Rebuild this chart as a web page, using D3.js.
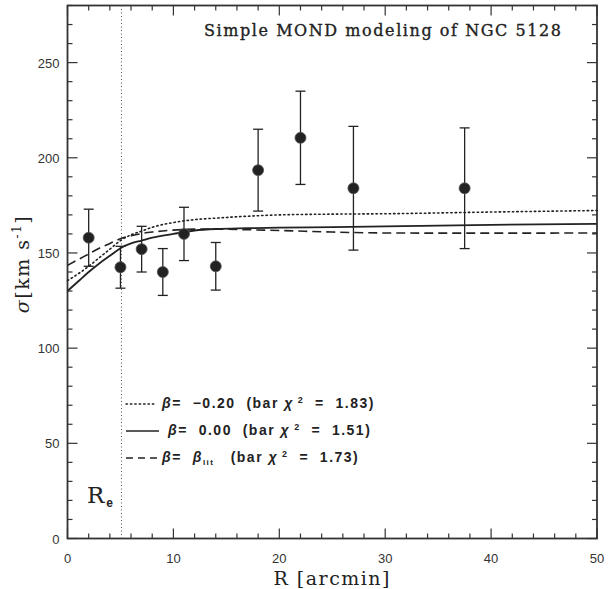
<!doctype html>
<html>
<head>
<meta charset="utf-8">
<title>Simple MOND modeling of NGC 5128</title>
<script src="https://d3js.org/d3.v7.min.js"></script>
<style>
  body {margin:0; background:#fff;}
  svg {display:block;}
  .tick-label {font-family:"Liberation Sans", Arial, sans-serif; font-size:13px; fill:#333;}
  .serif {font-family:"DejaVu Serif", "Liberation Serif", serif; fill:#222;}
  .legend {font-family:"Liberation Sans", Arial, sans-serif; font-weight:bold; font-size:14px; fill:#222; letter-spacing:1.5px;}
</style>
</head>
<body>
<script>
"use strict";
// measured points
var rData = [2, 5, 7, 9, 11, 14, 18, 22, 27, 37.5];
var sigData = [158, 142.5, 152, 140, 160, 143, 193.5, 210.5, 184, 184];
var sigErr = [15, 11, 12, 12.3, 14, 12.5, 21.5, 24.5, 32.5, 31.7];

// model curves
var curveR = [0, 1, 2, 3, 4, 5, 6, 7, 8, 10, 12, 14, 17, 20, 25, 30, 40, 50];
var sigDotted = [135.5, 139, 143, 147.5, 152, 156.5, 159.5, 161.5, 163.5, 166, 167.5, 168.3, 169.3, 170, 170.4, 170.6, 171.5, 172.3];
var sigSolid = [130, 135, 140, 144.5, 148.5, 152.5, 155, 156.5, 158, 160, 161.8, 162.6, 163, 163.3, 163.6, 164, 164.8, 165.3];
var sigDashed = [143.5, 146.5, 149.5, 152.5, 155, 157.5, 159, 160.2, 161, 162, 162.5, 162.5, 162.2, 161.8, 161, 160.5, 160.4, 160.5];

var rEff = 5.1;
var xTicks = [0, 10, 20, 30, 40, 50];
var yTicks = [0, 50, 100, 150, 200, 250];

var W = 608, H = 589;
var m = {left: 67.5, right: 11, top: 5.5, bottom: 50.5};

var svg = d3.select("body").append("svg").attr("width", W).attr("height", H);

var x = d3.scaleLinear().domain([0, 50]).range([m.left, W - m.right]);
var y = d3.scaleLinear().domain([0, 280]).range([H - m.bottom, m.top]);

var ink = "#222";

// ticks on all four sides
var xMinor = d3.range(0, 50.01, 2);
var yMinor = d3.range(0, 280.01, 10);
var tk = svg.append("g").attr("stroke", "#333").attr("stroke-width", 1.2);
xMinor.forEach(function(v) {
    var len = (v % 10 === 0) ? 10 : 5;
    tk.append("line").attr("x1", x(v)).attr("x2", x(v)).attr("y1", y(0)).attr("y2", y(0) - len);
    tk.append("line").attr("x1", x(v)).attr("x2", x(v)).attr("y1", y(280)).attr("y2", y(280) + len);
});
yMinor.forEach(function(v) {
    var len = (v % 50 === 0) ? 10 : 5;
    tk.append("line").attr("y1", y(v)).attr("y2", y(v)).attr("x1", x(0)).attr("x2", x(0) + len);
    tk.append("line").attr("y1", y(v)).attr("y2", y(v)).attr("x1", x(50)).attr("x2", x(50) - len);
});

// frame
svg.append("rect")
    .attr("x", x(0)).attr("y", y(280))
    .attr("width", x(50) - x(0)).attr("height", y(0) - y(280))
    .attr("fill", "none").attr("stroke", "#333").attr("stroke-width", 1.8);

// tick labels
svg.selectAll(".xl").data(xTicks).enter().append("text")
    .attr("class", "tick-label")
    .attr("x", function(d) { return x(d); })
    .attr("y", y(0) + 24)
    .attr("text-anchor", "middle")
    .text(function(d) { return d; });

svg.selectAll(".yl").data(yTicks).enter().append("text")
    .attr("class", "tick-label")
    .attr("x", x(0) - 8)
    .attr("y", function(d) { return y(d) + 5; })
    .attr("text-anchor", "end")
    .text(function(d) { return d; });

// axis titles
svg.append("text").attr("class", "serif")
    .attr("x", (x(0) + x(50)) / 2).attr("y", 585)
    .attr("text-anchor", "middle")
    .attr("font-size", 19).attr("letter-spacing", 1.5)
    .text("R [arcmin]");

var yt = svg.append("text").attr("class", "serif")
    .attr("transform", "translate(29," + ((y(0) + y(280)) / 2 - 8) + ") rotate(-90)")
    .attr("text-anchor", "middle")
    .attr("font-size", 19).attr("letter-spacing", 1.5);
yt.append("tspan").attr("font-style", "italic").text("σ");
yt.append("tspan").text("[km s");
yt.append("tspan").attr("font-size", 12).attr("dy", -8).text("-1");
yt.append("tspan").attr("dy", 8).text("]");

// title
svg.append("text").attr("class", "serif")
    .attr("x", 204).attr("y", 36)
    .attr("font-size", 16)
    .attr("stroke", "#222").attr("stroke-width", 0.35)
    .attr("textLength", 357).attr("lengthAdjust", "spacing")
    .text("Simple MOND modeling of NGC 5128");

// effective radius
svg.append("line")
    .attr("x1", x(rEff)).attr("x2", x(rEff)).attr("y1", y(0)).attr("y2", y(280))
    .attr("stroke", "#555").attr("stroke-width", 1).attr("stroke-dasharray", "1,2.5");

var re = svg.append("text").attr("class", "serif").attr("x", 87).attr("y", 503).attr("font-size", 23);
re.append("tspan").text("R");
re.append("tspan").attr("font-size", 12).attr("font-weight", "bold")
    .attr("font-family", "Liberation Sans, sans-serif").attr("dx", 2).attr("dy", 4).text("e");

// model curves
var line = d3.line()
    .x(function(d) { return x(d[0]); })
    .y(function(d) { return y(d[1]); })
    .curve(d3.curveMonotoneX);

var models = [
    {vals: sigDotted, dash: "1.4,3", width: 1.6, cap: "round"},
    {vals: sigSolid, dash: null, width: 1.8, cap: "butt"},
    {vals: sigDashed, dash: "9,5", width: 1.6, cap: "butt"}
];
models.forEach(function(md) {
    svg.append("path")
        .datum(d3.zip(curveR, md.vals))
        .attr("d", line)
        .attr("fill", "none")
        .attr("stroke", ink)
        .attr("stroke-width", md.width)
        .attr("stroke-linecap", md.cap)
        .attr("stroke-dasharray", md.dash);
});

// error bars and points
var pts = svg.append("g");
rData.forEach(function(r, i) {
    var cx = x(r), lo = y(sigData[i] - sigErr[i]), hi = y(sigData[i] + sigErr[i]);
    pts.append("line").attr("x1", cx).attr("x2", cx).attr("y1", lo).attr("y2", hi)
        .attr("stroke", ink).attr("stroke-width", 1.3);
    [lo, hi].forEach(function(yy) {
        pts.append("line").attr("x1", cx - 5).attr("x2", cx + 5).attr("y1", yy).attr("y2", yy)
            .attr("stroke", ink).attr("stroke-width", 1.3);
    });
    pts.append("circle").attr("cx", cx).attr("cy", y(sigData[i])).attr("r", 5.5)
        .attr("fill", ink).attr("stroke", "#555").attr("stroke-width", 0.8);
});

// legend
var legendRows = [
    {dash: "1.4,3", cap: "round", x2: 156, tx: 162, y: 408, val: "−0.20", chi: "1.83"},
    {dash: null, cap: "butt", x2: 159, tx: 168, y: 435, val: "0.00", chi: "1.51"},
    {dash: "7,5", cap: "butt", x2: 159, tx: 162, y: 462, val: null, chi: "1.73"}
];
legendRows.forEach(function(d) {
    svg.append("line")
        .attr("x1", 126).attr("x2", d.x2).attr("y1", d.y - 4).attr("y2", d.y - 4)
        .attr("stroke", ink).attr("stroke-width", 1.5)
        .attr("stroke-linecap", d.cap).attr("stroke-dasharray", d.dash);
    var t = svg.append("text").attr("class", "legend").attr("x", d.tx).attr("y", d.y).attr("xml:space", "preserve");
    t.append("tspan").attr("font-style", "italic").text("β");
    t.append("tspan").text("=  ");
    if (d.val) {
        t.append("tspan").text(d.val);
    } else {
        t.append("tspan").attr("font-style", "italic").text("β");
        t.append("tspan").attr("font-size", 8).attr("dy", 3).text("lit");
        t.append("tspan").attr("dy", -3).text(" ");
    }
    t.append("tspan").text("  (bar ");
    t.append("tspan").attr("font-style", "italic").text("χ");
    t.append("tspan").attr("font-size", 9).attr("dy", -5).text(" 2");
    t.append("tspan").attr("dy", 5).text("  =  " + d.chi + ")");
});
</script>
</body>
</html>
